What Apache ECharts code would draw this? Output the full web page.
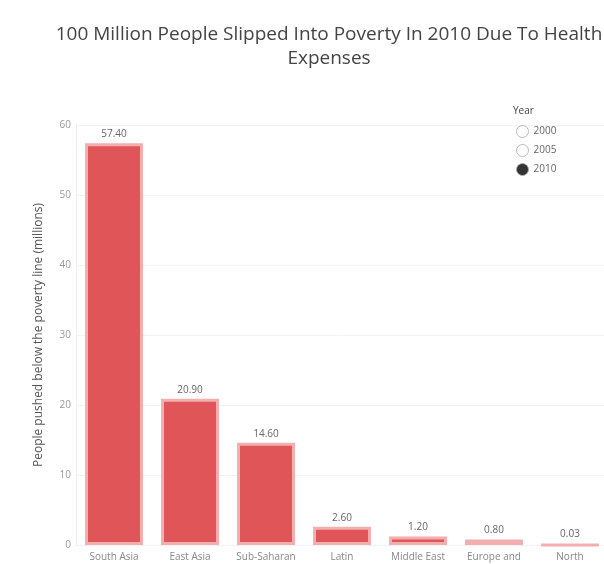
<!DOCTYPE html>
<html>
<head>
<meta charset="utf-8">
<script src="https://cdn.jsdelivr.net/npm/echarts@6/dist/echarts.min.js"></script>
<style>html,body{margin:0;padding:0;background:#fff;}#c{width:604px;height:564px;}</style>
</head>
<body>
<div id="c"></div>
<script>
const categories = ["South Asia", "East Asia", "Sub-Saharan\nAfrica", "Latin\nAmerica", "Middle East", "Europe and\nCentral Asia", "North\nAmerica"];
const values2010 = [57.4, 20.9, 14.6, 2.6, 1.2, 0.8, 0.03];
const years = ["2000", "2005", "2010"];
const yTicks = [0, 10, 20, 30, 40, 50, 60];

const chart = echarts.init(document.getElementById('c'));
const font = "'Open Sans', 'Liberation Sans', sans-serif";
chart.setOption({
  animation: false,
  textStyle: { fontFamily: font },
  title: [
    {
      text: "100 Million People Slipped Into Poverty In 2010 Due To Health\nExpenses",
      left: 324, top: 18, textAlign: 'center',
      textStyle: { fontSize: 19, fontWeight: 'normal', color: '#444', lineHeight: 24, fontFamily: font }
    },
    {
      text: "Year", left: 508, top: 101,
      textStyle: { fontSize: 10, fontWeight: 'normal', color: '#444', fontFamily: font }
    }
  ],
  legend: {
    orient: 'vertical', left: 511, top: 120, itemWidth: 12, itemHeight: 12, itemGap: 6,
    selectedMode: false,
    textStyle: { fontSize: 10, color: '#666' },
    data: [
      { name: years[0], icon: 'circle', itemStyle: { color: '#fff', borderColor: '#aaa', borderWidth: 1 } },
      { name: years[1], icon: 'circle', itemStyle: { color: '#fff', borderColor: '#aaa', borderWidth: 1 } },
      { name: years[2], icon: 'circle', itemStyle: { color: '#333', borderColor: '#aaa', borderWidth: 1 } }
    ]
  },
  grid: { left: 76, top: 125, width: 532, height: 420, containLabel: false, outerBoundsMode: 'none' },
  xAxis: {
    type: 'category', data: categories,
    axisLine: { show: false }, axisTick: { show: false },
    axisLabel: { fontSize: 10, color: '#888', margin: 5, lineHeight: 14, interval: 0 }
  },
  yAxis: {
    type: 'value', min: 0, max: 60, interval: 10,
    name: 'People pushed below the poverty line (millions)',
    nameLocation: 'middle', nameGap: 31,
    nameTextStyle: { fontSize: 12, color: '#555' },
    axisLine: { show: true, lineStyle: { color: '#eee' } },
    axisTick: { show: false },
    axisLabel: { fontSize: 10, color: '#999', margin: 5, formatter: v => yTicks.includes(v) ? String(v) : '' },
    splitLine: { lineStyle: { color: '#f3f3f3' } }
  },
  series: [
    { name: years[0], type: 'scatter', data: [] },
    { name: years[1], type: 'scatter', data: [] },
    {
      name: years[2], type: 'bar', data: values2010, barWidth: 58,
      itemStyle: { color: '#e05558', borderColor: '#f3aeb0', borderWidth: 3 },
      label: { show: true, position: 'top', distance: 4, fontSize: 10, color: '#666', formatter: p => p.value.toFixed(2) }
    }
  ]
});
</script>
</body>
</html>
